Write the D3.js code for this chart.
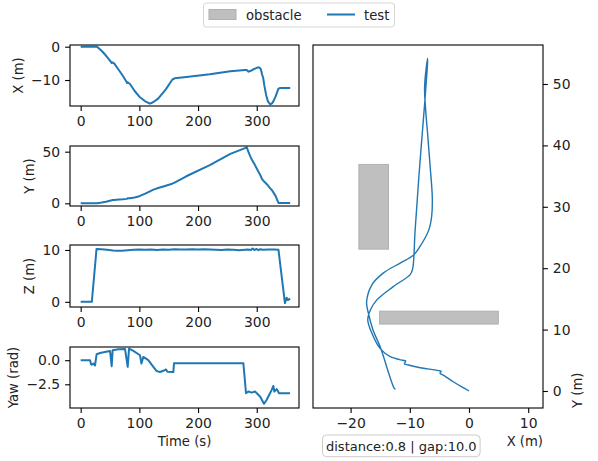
<!DOCTYPE html>
<html>
<head>
<meta charset="utf-8">
<script src="https://cdn.jsdelivr.net/npm/d3@7"></script>
<style>
  body { margin: 0; background: #fff; }
</style>
</head>
<body>
<div id="main"></div>
<script>
const Width = 598, Height = 461;

// flight log (t in s, positions in m)
const trajT = [0, 28, 36, 43, 50, 53, 54, 57, 65, 72, 78, 79, 80, 84, 92, 100, 110, 118, 124, 132,
    145, 156, 160, 180, 220, 255, 280, 283, 286, 289, 292, 297, 302, 305, 307, 309, 311, 313, 316, 319,
    323, 326, 329, 332, 337, 340, 357];
const trajX = [0, 0, -1.3, -2.65, -4.2, -4.9, -4.7, -5.0, -7.0, -8.8, -10.5, -10.9, -10.7, -11.2, -13.3, -15.0, -16.4, -17.1, -16.6, -15.6,
    -12.8, -9.9, -9.5, -9.1, -8.3, -7.4, -7.0, -7.0, -7.5, -7.3, -7.0, -6.6, -6.2, -6.3, -6.8, -8.3, -9.4, -11.7, -14.5, -16.4,
    -17.3, -17.0, -16.2, -15.0, -12.6, -12.4, -12.4];
const trajY = [0, 0, 0.7, 1.5, 2.5, 2.9, 3.2, 3.3, 3.6, 3.9, 4.3, 4.4, 4.9, 5.0, 5.6, 6.9, 9.4, 11.6, 13.3, 14.8,
    17.0, 19.0, 20.0, 26.2, 37.0, 47.9, 53.5, 54.2, 49.5, 45.5, 42.0, 37.0, 31.5, 28.5, 26.2, 23.5, 22.1, 20.8, 19.2, 17.3,
    14.5, 12.7, 9.9, 7.2, 0.4, 0.3, 0.3];

const zT = [0, 19, 27, 35, 45, 55, 62, 70, 80, 90, 100, 110, 120, 130, 140, 150, 160, 170, 180, 190, 200, 210,
    220, 230, 240, 250, 260, 270, 280, 285, 290, 293, 296, 300, 303, 306, 310, 320, 330, 337, 348, 351, 353, 357];
const zVal = [0, 0, 10.2, 10.15, 10.05, 9.9, 9.85, 9.85, 9.95, 10.05, 10.1, 10.05, 10.1, 10.0, 10.1, 10.05, 10.15, 10.1, 10.1, 10.15, 10.1, 10.15,
    10.1, 10.05, 10.0, 10.1, 10.05, 9.95, 10.05, 10.1, 10.0, 10.3, 10.0, 10.2, 9.95, 10.15, 10.05, 10.1, 10.1, 10.05, -0.25, 0.8, 0.35, 0.6];

const yawT = [0, 16, 17.6, 18.7, 21.6, 24.4, 27.2, 32.9, 41.4, 50, 52.8, 54.5, 64.2, 75.6, 80.1, 82.4, 89.8, 101.1, 103.5, 106.7,
    115.2, 123.8, 129.5, 135.2, 140.8, 145.4, 147.7, 157.9, 159.0, 277.2, 281.7, 285.7, 291.4, 297.1, 305.6, 312.4, 317, 322.6,
    325.5, 328.3, 330, 334, 338, 356.8];
const yawVal = [0, 0, -0.41, -0.48, -0.34, -0.55, 0.62, 0.75, 0.86, 0.96, -0.62, 1.03, 1.13, 1.16, -0.69, 1.2, 0.96, 0.51, -0.34, 0.34,
    0, -0.69, -1.13, -1.23, -1.1, -0.96, -1.2, -1.23, -0.31, -0.31, -3.43, -3.25, -3.36, -3.25, -3.77, -4.52, -4.11, -3.43,
    -3.08, -2.67, -3.25, -3.0, -3.43, -3.43];

// obstacles as [min, max] in metres
const obstacleX = [[-18.6, -13.6], [-15.1, 4.95]];
const obstacleY = [[23.1, 36.9], [10.9, 13.0]];

const timeTicks = [0, 100, 200, 300];
const mapXTicks = [-20, -10, 0, 10];
const mapYTicks = [0, 10, 20, 30, 40, 50];
const infoText = "distance:0.8 | gap:10.0";
const seriesName = "test", obstacleName = "obstacle";

const blue = "#1f77b4", grey = "#bfbfbf";
const tickFont = 13.9, labelFont = 13.2;
const font = "'DejaVu Sans', sans-serif";

const svg = d3.select("#main")
    .append("svg")
    .attr("width", Width)
    .attr("height", Height)
    .style("font-family", font)
;
svg.append("rect").attr("width", Width).attr("height", Height).attr("fill", "#fff");

function styleAxis(g) {
    g.attr("font-family", font).attr("font-size", tickFont);
    g.select(".domain").remove();
    g.selectAll("line").attr("stroke", "#000").attr("stroke-width", 1.1);
    g.selectAll("text").attr("fill", "#222");
}

// ---- left: time series ----
const tsLeft = 70, tsRight = 299;
const timeScale = d3.scaleLinear().domain([-18.2, 372]).range([tsLeft, tsRight]);

const panels = [
    {label: "X (m)", top: 45, bottom: 106, domain: [-17.8, 0.51], ticks: [-10, 0], fmt: d3.format("d"), t: trajT, v: trajX},
    {label: "Y (m)", top: 146, bottom: 206, domain: [-2.6, 55.5], ticks: [0, 50], fmt: d3.format("d"), t: trajT, v: trajY},
    {label: "Z (m)", top: 245, bottom: 307, domain: [-1.0, 10.96], ticks: [0, 10], fmt: d3.format("d"), t: zT, v: zVal},
    {label: "Yaw (rad)", top: 347, bottom: 408, domain: [-4.96, 1.37], ticks: [-2.5, 0], fmt: d3.format(".1f"), t: yawT, v: yawVal}
];

panels.forEach(function (p) {
    const y = d3.scaleLinear().domain(p.domain).range([p.bottom, p.top]);
    const g = svg.append("g");

    g.append("path")
        .datum(d3.zip(p.t, p.v))
        .attr("fill", "none")
        .attr("stroke", blue)
        .attr("stroke-width", 2)
        .attr("stroke-linejoin", "round")
        .attr("d", d3.line().x(d => timeScale(d[0])).y(d => y(d[1])));

    const ya = g.append("g")
        .attr("transform", `translate(${tsLeft},0)`)
        .call(d3.axisLeft(y).tickValues(p.ticks).tickFormat(p.fmt).tickSize(4.9).tickPadding(4.9))
        .call(styleAxis);
    g.append("g")
        .attr("transform", `translate(0,${p.bottom})`)
        .call(d3.axisBottom(timeScale).tickValues(timeTicks).tickFormat(d3.format("d")).tickSize(4.9).tickPadding(4.9))
        .call(styleAxis);

    g.append("rect")
        .attr("x", tsLeft).attr("y", p.top)
        .attr("width", tsRight - tsLeft).attr("height", p.bottom - p.top)
        .attr("fill", "none").attr("stroke", "#000").attr("stroke-width", 1.1);

    // getBBox is in the axis group's own coords, so add its offset
    const bb = ya.node().getBBox();
    const lx = tsLeft + bb.x - 5.6 - 2.5;
    g.append("text")
        .attr("transform", `translate(${lx},${(p.top + p.bottom) / 2}) rotate(-90)`)
        .attr("text-anchor", "middle")
        .attr("font-size", labelFont)
        .attr("fill", "#222")
        .text(p.label);
});

svg.append("text")
    .attr("x", (tsLeft + tsRight) / 2).attr("y", 446)
    .attr("text-anchor", "middle")
    .attr("font-size", labelFont).attr("fill", "#222")
    .text("Time (s)");

// ---- right: XY map ----
const map = {left: 313, right: 543, top: 45, bottom: 408};
const mx = d3.scaleLinear().domain([-26.35, 12.5]).range([map.left, map.right]);
const my = d3.scaleLinear().domain([-2.77, 56.35]).range([map.bottom, map.top]);

const mg = svg.append("g");
mg.selectAll("rect.obstacle")
    .data(d3.zip(obstacleX, obstacleY))
    .enter().append("rect")
    .attr("class", "obstacle")
    .attr("x", d => mx(d[0][0]))
    .attr("y", d => my(d[1][1]))
    .attr("width", d => mx(d[0][1]) - mx(d[0][0]))
    .attr("height", d => my(d[1][0]) - my(d[1][1]))
    .attr("fill", grey)
    .attr("stroke", "#b0b0b0")
    .attr("stroke-width", 1);

mg.append("path")
    .datum(d3.zip(trajX, trajY))
    .attr("fill", "none")
    .attr("stroke", blue)
    .attr("stroke-width", 1.4)
    .attr("d", d3.line().x(d => mx(d[0])).y(d => my(d[1])).curve(d3.curveCatmullRom.alpha(0.5)));

mg.append("g")
    .attr("transform", `translate(${map.right},0)`)
    .call(d3.axisRight(my).tickValues(mapYTicks).tickFormat(d3.format("d")).tickSize(4.9).tickPadding(4.9))
    .call(styleAxis);
mg.append("g")
    .attr("transform", `translate(0,${map.bottom})`)
    .call(d3.axisBottom(mx).tickValues(mapXTicks).tickFormat(d3.format("d")).tickSize(4.9).tickPadding(4.9))
    .call(styleAxis);

mg.append("rect")
    .attr("x", map.left).attr("y", map.top)
    .attr("width", map.right - map.left).attr("height", map.bottom - map.top)
    .attr("fill", "none").attr("stroke", "#000").attr("stroke-width", 1.1);

mg.append("text")
    .attr("x", map.right).attr("y", 446)
    .attr("text-anchor", "end")
    .attr("font-size", labelFont).attr("fill", "#222")
    .text("X (m)");
mg.append("text")
    .attr("transform", `translate(582,${map.bottom}) rotate(-90)`)
    .attr("text-anchor", "start")
    .attr("font-size", labelFont).attr("fill", "#222")
    .text("Y (m)");

// info box under the map
const info = mg.append("g");
const infoT = info.append("text")
    .attr("x", 326).attr("y", 450.5)
    .attr("font-size", 13)
    .attr("fill", "#222")
    .text(infoText);
const ib = infoT.node().getBBox();
info.insert("rect", "text")
    .attr("x", ib.x - 3.5).attr("y", 435)
    .attr("width", ib.width + 7).attr("height", 21.7)
    .attr("rx", 4)
    .attr("fill", "#fff").attr("stroke", "#cccccc").attr("stroke-width", 1);

// ---- legend ----
const lg = svg.append("g");
lg.append("rect")
    .attr("x", 203.5).attr("y", 3).attr("width", 191).attr("height", 24).attr("rx", 3)
    .attr("fill", "#fff").attr("stroke", "#d6d6d6").attr("stroke-width", 1);
lg.append("rect")
    .attr("x", 209).attr("y", 9.5).attr("width", 27).attr("height", 10)
    .attr("fill", grey).attr("stroke", "#b0b0b0");
lg.append("text").attr("x", 246).attr("y", 19.8)
    .attr("font-size", labelFont).attr("fill", "#222").text(obstacleName);
lg.append("line")
    .attr("x1", 327).attr("x2", 355).attr("y1", 14.5).attr("y2", 14.5)
    .attr("stroke", blue).attr("stroke-width", 2);
lg.append("text").attr("x", 364).attr("y", 19.8)
    .attr("font-size", labelFont).attr("fill", "#222").text(seriesName);
</script>
</body>
</html>
